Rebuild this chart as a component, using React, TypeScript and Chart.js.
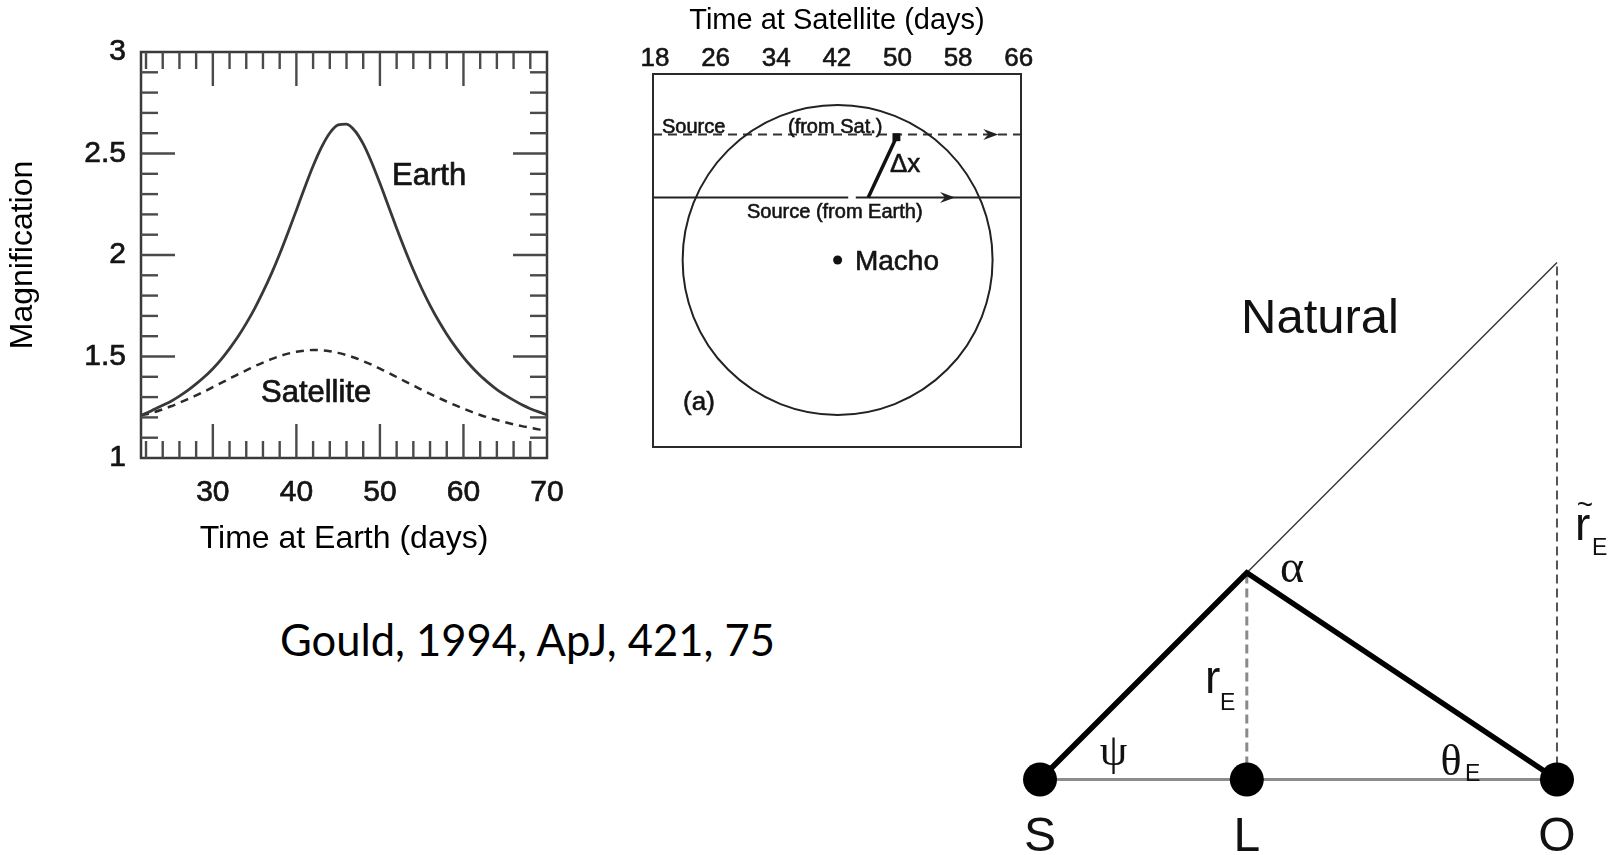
import React, { useEffect, useRef } from "react";
import { Chart, registerables } from "chart.js";

Chart.register(...registerables);

// ---- Light curves: magnification seen from Earth and from the satellite ----
const curveDays = [
  21.4, 22, 23, 24, 25, 26, 27, 28, 29, 30,
  31, 32, 33, 34, 35, 36, 37, 38, 39, 40,
  41, 42, 43, 44, 45, 46, 47, 48, 49, 50,
  51, 52, 53, 54, 55, 56, 57, 58, 59, 60,
  61, 62, 63, 64, 65, 66, 67, 68, 69, 70,
];
const earthMag = [
  1.21, 1.22, 1.24, 1.26, 1.28, 1.305, 1.333, 1.365, 1.4, 1.44,
  1.486, 1.539, 1.597, 1.663, 1.736, 1.818, 1.907, 2.005, 2.111, 2.221,
  2.332, 2.438, 2.53, 2.601, 2.641, 2.645, 2.612, 2.547, 2.457, 2.353,
  2.243, 2.132, 2.026, 1.926, 1.835, 1.752, 1.677, 1.61, 1.55, 1.496,
  1.448, 1.406, 1.37, 1.337, 1.31, 1.285, 1.262, 1.243, 1.227, 1.213,
];
const satelliteMag = [
  1.21, 1.215, 1.226, 1.24, 1.255, 1.272, 1.29, 1.308, 1.328, 1.349,
  1.37, 1.391, 1.412, 1.432, 1.452, 1.47, 1.487, 1.502, 1.514, 1.523,
  1.529, 1.532, 1.531, 1.526, 1.518, 1.507, 1.494, 1.477, 1.46, 1.44,
  1.42, 1.399, 1.378, 1.357, 1.336, 1.316, 1.297, 1.278, 1.26, 1.243,
  1.227, 1.212, 1.199, 1.187, 1.176, 1.166, 1.157, 1.149, 1.141, 1.134,
];
const earthDayTicks = [30, 40, 50, 60, 70];
const majorDayMarks = [30, 40, 50, 60];
const minorDayMarks = [22, 24, 26, 28, 32, 34, 36, 38, 42, 44, 46, 48, 52, 54, 56, 58, 62, 64, 66, 68];
const magTicks = [1, 1.5, 2, 2.5, 3];
const majorMagMarks = [1.5, 2, 2.5];
const minorMagMarks = [1.1, 1.2, 1.3, 1.4, 1.6, 1.7, 1.8, 1.9, 2.1, 2.2, 2.3, 2.4, 2.6, 2.7, 2.8, 2.9];
const curveLabels = [
  { text: "Earth", x: 51.45, y: 2.346 },
  { text: "Satellite", x: 35.76, y: 1.275 },
];

// ---- Source tracks across the Einstein ring (satellite time axis) ----
const satDayTicks = [18, 26, 34, 42, 50, 58, 66];
const satTrack = [{ x: 17.74, y: 16.56 }, { x: 66.3, y: 16.56 }];
const earthTrackWest = [{ x: 17.74, y: 8.25 }, { x: 43.5, y: 8.25 }];
const earthTrackEast = [{ x: 44.5, y: 8.25 }, { x: 66.3, y: 8.25 }];
const parallaxOffset = [{ x: 46.14, y: 8.25 }, { x: 49.86, y: 16.2 }];
const lensPosition = [{ x: 42.1, y: 0 }];
const einsteinRingRadius = 20.45;
const arrowTips = [
  { x: 63.3, y: 16.56 },
  { x: 57.6, y: 8.25 },
];
const trackLabels = [
  { text: "Source", x: 18.92, y: 16.75, size: 20 },
  { text: "(from Sat.)", x: 35.55, y: 16.75, size: 20 },
  { text: "Source (from Earth)", x: 30.14, y: 5.54, size: 20 },
  { text: "\u0394x", x: 49.0, y: 11.6, size: 26 },
  { text: "Macho", x: 44.39, y: -1.32, size: 28 },
  { text: "(a)", x: 21.7, y: -19.8, size: 26 },
];

// ---- Lens geometry: source S, lens L, observer O ----
const bodies = [{ x: 0, y: 0 }, { x: 0.4, y: 0 }, { x: 1, y: 0 }];
const bodyNames = ["S", "L", "O"];
const baseline = [{ x: 0, y: 0 }, { x: 1, y: 0 }];
const lightPath = [{ x: 0, y: 0 }, { x: 0.4, y: 0.4 }, { x: 1, y: 0 }];
const projectedRay = [{ x: 0.4, y: 0.4 }, { x: 1, y: 1 }];
const einsteinRadiusLine = [{ x: 0.4, y: 0 }, { x: 0.4, y: 0.4 }];
const projectedRadiusLine = [{ x: 1, y: 0 }, { x: 1, y: 1 }];

const SANS = '"Liberation Sans", Arial, Helvetica, sans-serif';
const SERIF = '"Liberation Serif", "Times New Roman", serif';
const INK = "#141414";

// Text with a hairline outline so it keeps some weight under the soft filter
function heavyText(ctx: CanvasRenderingContext2D, text: string, x: number, y: number, w = 0.7) {
  ctx.fillText(text, x, y);
  ctx.lineWidth = w;
  ctx.strokeStyle = ctx.fillStyle as string;
  ctx.strokeText(text, x, y);
}

const curveFrame = {
  id: "curveFrame",
  afterDatasetsDraw(chart: any) {
    const { ctx, chartArea: a, scales } = chart;
    const xs = scales.x;
    const ys = scales.y;
    const seg = (x1: number, y1: number, x2: number, y2: number) => {
      ctx.beginPath();
      ctx.moveTo(x1, y1);
      ctx.lineTo(x2, y2);
      ctx.stroke();
    };
    ctx.save();
    ctx.strokeStyle = "#3a3a3a";
    ctx.lineWidth = 2.5;
    ctx.strokeRect(a.left, a.top, a.right - a.left, a.bottom - a.top);
    ctx.strokeStyle = "#4a4a4a";
    ctx.lineWidth = 2.4;
    const dayMarks: [number[], number][] = [[minorDayMarks, 17], [majorDayMarks, 34]];
    for (const [vals, len] of dayMarks) {
      for (const d of vals) {
        const p = xs.getPixelForValue(d);
        seg(p, a.bottom, p, a.bottom - len);
        seg(p, a.top, p, a.top + len);
      }
    }
    const magMarks: [number[], number][] = [[minorMagMarks, 17], [majorMagMarks, 34]];
    for (const [vals, len] of magMarks) {
      for (const m of vals) {
        const p = ys.getPixelForValue(m);
        seg(a.left, p, a.left + len, p);
        seg(a.right, p, a.right - len, p);
      }
    }
    ctx.fillStyle = INK;
    ctx.font = `31px ${SANS}`;
    ctx.textAlign = "left";
    ctx.textBaseline = "alphabetic";
    for (const l of curveLabels) {
      heavyText(ctx, l.text, xs.getPixelForValue(l.x), ys.getPixelForValue(l.y));
    }
    ctx.restore();
  },
};

const trackDecor = {
  id: "trackDecor",
  afterDatasetsDraw(chart: any) {
    const { ctx, chartArea: a, scales } = chart;
    const xs = scales.x;
    const ys = scales.y;
    ctx.save();
    ctx.strokeStyle = "#2a2a2a";
    ctx.lineWidth = 2;
    ctx.strokeRect(a.left, a.top, a.right - a.left, a.bottom - a.top);
    for (const t of arrowTips) {
      const px = xs.getPixelForValue(t.x);
      const py = ys.getPixelForValue(t.y);
      ctx.beginPath();
      ctx.moveTo(px, py);
      ctx.lineTo(px - 15, py - 5.5);
      ctx.lineTo(px - 10, py);
      ctx.lineTo(px - 15, py + 5.5);
      ctx.closePath();
      ctx.fillStyle = "#222";
      ctx.fill();
    }
    ctx.fillStyle = INK;
    ctx.textAlign = "left";
    ctx.textBaseline = "alphabetic";
    for (const l of trackLabels) {
      ctx.font = `${l.size}px ${SANS}`;
      heavyText(ctx, l.text, xs.getPixelForValue(l.x), ys.getPixelForValue(l.y), 0.6);
    }
    ctx.restore();
  },
};

type GeoText = { text: string; x: number; y: number; size: number; font: string; align: CanvasTextAlign; base?: CanvasTextBaseline };
const geometryLabels: GeoText[] = [
  { text: "Natural", x: 0.5416, y: 0.8636, size: 49, font: SANS, align: "center" },
  { text: "\u03C8", x: 0.1422, y: 0.028, size: 44, font: SERIF, align: "center" },
  { text: "\u03B1", x: 0.4874, y: 0.382, size: 46, font: SERIF, align: "center" },
  { text: "\u03B8", x: 0.795, y: 0.009, size: 44, font: SERIF, align: "center" },
  { text: "E", x: 0.822, y: -0.003, size: 23, font: SANS, align: "left" },
  { text: "r", x: 0.3191, y: 0.1673, size: 46, font: SANS, align: "left" },
  { text: "E", x: 0.348, y: 0.1344, size: 23, font: SANS, align: "left" },
  { text: "r", x: 1.0348, y: 0.4632, size: 46, font: SANS, align: "left" },
  { text: "~", x: 1.054, y: 0.528, size: 28, font: SANS, align: "center", base: "middle" },
  { text: "E", x: 1.0677, y: 0.4342, size: 23, font: SANS, align: "left" },
];

const geometryText = {
  id: "geometryText",
  afterDatasetsDraw(chart: any) {
    const { ctx, scales } = chart;
    const xs = scales.x;
    const ys = scales.y;
    ctx.save();
    ctx.fillStyle = "#111";
    for (const l of geometryLabels) {
      ctx.font = `${l.size}px ${l.font}`;
      ctx.textAlign = l.align;
      ctx.textBaseline = l.base || "alphabetic";
      ctx.fillText(l.text, xs.getPixelForValue(l.x), ys.getPixelForValue(l.y));
    }
    ctx.font = `48px ${SANS}`;
    ctx.textAlign = "center";
    ctx.textBaseline = "alphabetic";
    bodies.forEach((b, i) => {
      ctx.fillText(bodyNames[i], xs.getPixelForValue(b.x), ys.getPixelForValue(-0.1383));
    });
    ctx.restore();
  },
};

const pts = (xs: number[], ys: number[]) => xs.map((x, i) => ({ x, y: ys[i] }));

function curveConfig(): any {
  return {
    type: "line",
    data: {
      datasets: [
        {
          label: "Earth",
          data: pts(curveDays, earthMag),
          borderColor: "#383838",
          borderWidth: 2.8,
          pointRadius: 0,
          cubicInterpolationMode: "monotone",
          fill: false,
        },
        {
          label: "Satellite",
          data: pts(curveDays, satelliteMag),
          borderColor: "#2a2a2a",
          borderWidth: 2.5,
          borderDash: [8, 6],
          pointRadius: 0,
          cubicInterpolationMode: "monotone",
          fill: false,
        },
      ],
    },
    options: {
      animation: false,
      responsive: false,
      devicePixelRatio: 1,
      layout: { autoPadding: false, padding: { left: 0, top: 52, right: 53, bottom: 22 } },
      plugins: { legend: { display: false }, tooltip: { enabled: false } },
      scales: {
        x: {
          type: "linear",
          min: 21.4,
          max: 70,
          afterBuildTicks: (s: any) => {
            s.ticks = earthDayTicks.map((v) => ({ value: v }));
          },
          afterFit: (s: any) => {
            s.height = 100;
          },
          grid: { display: false, drawTicks: false },
          border: { display: false },
          ticks: {
            padding: 17,
            autoSkip: false,
            maxRotation: 0,
            color: INK,
            textStrokeColor: INK,
            textStrokeWidth: 0.7,
            font: { family: SANS, size: 30 },
            callback: (v: any) => String(v),
          },
          title: {
            display: true,
            text: "Time at Earth (days)",
            color: "#000",
            font: { family: SANS, size: 32 },
            padding: { top: 0, bottom: 0 },
          },
        },
        y: {
          type: "linear",
          min: 1,
          max: 3,
          afterBuildTicks: (s: any) => {
            s.ticks = magTicks.map((v) => ({ value: v }));
          },
          afterFit: (s: any) => {
            s.width = 141;
          },
          grid: { display: false, drawTicks: false },
          border: { display: false },
          ticks: {
            padding: 15,
            autoSkip: false,
            color: INK,
            textStrokeColor: INK,
            textStrokeWidth: 0.7,
            font: { family: SANS, size: 30 },
            callback: (v: any) => String(v),
          },
          title: {
            display: true,
            text: "Magnification",
            color: "#000",
            font: { family: SANS, size: 32 },
            padding: { top: 4, bottom: 0 },
          },
        },
      },
    },
    plugins: [curveFrame],
  };
}

function trackConfig(): any {
  const line = (data: any[], extra: any) => ({
    data,
    showLine: true,
    pointRadius: 0,
    borderColor: "#222",
    borderWidth: 2,
    ...extra,
  });
  return {
    type: "scatter",
    data: {
      datasets: [
        line(parallaxOffset, {
          borderWidth: 3.5,
          borderColor: "#111",
          pointRadius: [0, 5.6],
          pointStyle: "rect",
          pointBackgroundColor: "#111",
          pointBorderWidth: 0,
        }),
        {
          data: lensPosition,
          pointRadius: 4.5,
          pointBackgroundColor: "#111",
          pointBorderWidth: 0,
        },
        {
          data: lensPosition,
          pointRadius: (c: any) => {
            const s = c.chart.scales.x;
            return Math.abs(s.getPixelForValue(lensPosition[0].x + einsteinRingRadius) - s.getPixelForValue(lensPosition[0].x));
          },
          pointBackgroundColor: "rgba(0,0,0,0)",
          pointBorderColor: "#222",
          pointBorderWidth: 2,
          clip: false,
        },
        line(satTrack, { borderDash: [9, 6], borderColor: "#333" }),
        line(earthTrackWest, {}),
        line(earthTrackEast, {}),
      ],
    },
    options: {
      animation: false,
      responsive: false,
      devicePixelRatio: 1,
      layout: { autoPadding: false, padding: { left: 33, top: 0, right: 19, bottom: 23 } },
      plugins: { legend: { display: false }, tooltip: { enabled: false } },
      scales: {
        x: {
          type: "linear",
          position: "top",
          min: 17.74,
          max: 66.3,
          afterBuildTicks: (s: any) => {
            s.ticks = satDayTicks.map((v) => ({ value: v }));
          },
          afterFit: (s: any) => {
            s.height = 74;
          },
          grid: { display: false, drawTicks: false },
          border: { display: false },
          ticks: {
            padding: 0,
            autoSkip: false,
            maxRotation: 0,
            color: INK,
            textStrokeColor: INK,
            textStrokeWidth: 0.6,
            font: { family: SANS, size: 26 },
            callback: (v: any) => String(v),
          },
          title: {
            display: true,
            text: "Time at Satellite (days)",
            color: "#000",
            font: { family: SANS, size: 29 },
            padding: { top: 3.6, bottom: 0 },
          },
        },
        y: { type: "linear", display: false, min: -24.68, max: 24.54 },
      },
    },
    plugins: [trackDecor],
  };
}

function geometryConfig(): any {
  return {
    type: "scatter",
    data: {
      datasets: [
        {
          data: bodies,
          pointRadius: 17,
          pointBackgroundColor: "#000",
          pointBorderWidth: 0,
          clip: false,
        },
        { data: lightPath, showLine: true, pointRadius: 0, borderColor: "#000", borderWidth: 5.5, borderJoinStyle: "miter", clip: false },
        { data: projectedRay, showLine: true, pointRadius: 0, borderColor: "#333", borderWidth: 1.4, clip: false },
        { data: einsteinRadiusLine, showLine: true, pointRadius: 0, borderColor: "#8a8a8a", borderWidth: 3, borderDash: [9, 5], clip: false },
        { data: projectedRadiusLine, showLine: true, pointRadius: 0, borderColor: "#555", borderWidth: 2, borderDash: [9, 5], clip: false },
        { data: baseline, showLine: true, pointRadius: 0, borderColor: "#8c8c8c", borderWidth: 3, clip: false },
      ],
    },
    options: {
      animation: false,
      responsive: false,
      devicePixelRatio: 1,
      layout: { autoPadding: false, padding: 0 },
      plugins: { legend: { display: false }, tooltip: { enabled: false } },
      scales: {
        x: { type: "linear", display: false, min: -0.1161, max: 1.1161 },
        y: { type: "linear", display: false, min: -0.146, max: 1.0629 },
      },
    },
    plugins: [geometryText],
  };
}

export default function App() {
  const curveRef = useRef<HTMLCanvasElement>(null);
  const trackRef = useRef<HTMLCanvasElement>(null);
  const geomRef = useRef<HTMLCanvasElement>(null);

  useEffect(() => {
    const charts = [
      new Chart(curveRef.current as HTMLCanvasElement, curveConfig()),
      new Chart(trackRef.current as HTMLCanvasElement, trackConfig()),
      new Chart(geomRef.current as HTMLCanvasElement, geometryConfig()),
    ];
    return () => charts.forEach((c) => c.destroy());
  }, []);

  const abs = (left: number, top: number, w: number, h: number, blur: number): React.CSSProperties => ({
    position: "absolute",
    left,
    top,
    width: w,
    height: h,
    filter: blur > 0 ? `blur(${blur}px)` : undefined,
  });

  return (
    <div style={{ position: "absolute", left: 0, top: 0, width: 1617, height: 855, background: "#fff", overflow: "hidden" }}>
      <canvas ref={curveRef} width={600} height={580} style={abs(0, 0, 600, 580, 0.7)} />
      <canvas ref={trackRef} width={420} height={470} style={abs(620, 0, 420, 470, 0.7)} />
      <canvas ref={geomRef} width={637} height={625} style={abs(980, 230, 637, 625, 0.3)} />
      <div
        style={{
          position: "absolute",
          left: 280,
          top: 618,
          fontFamily: "Lato, 'Open Sans', sans-serif",
          fontSize: 43.5,
          lineHeight: 1,
          color: "#000",
          whiteSpace: "nowrap",
        }}
      >
        Gould, 1994, ApJ, 421, 75
      </div>
    </div>
  );
}
